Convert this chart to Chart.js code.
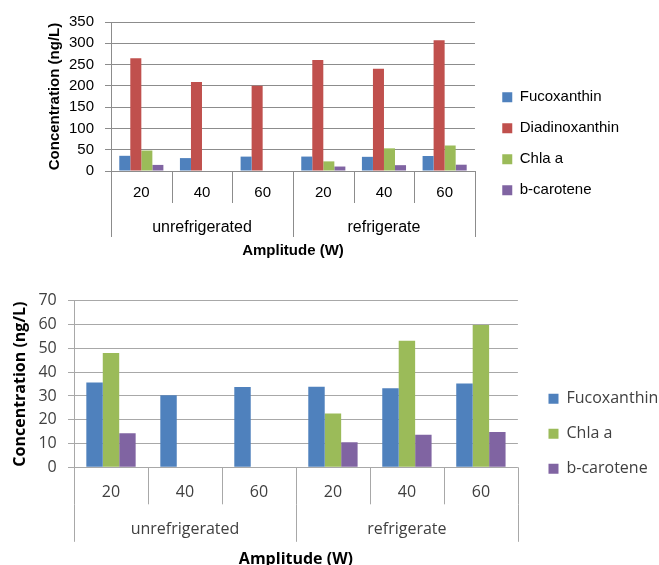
<!DOCTYPE html>
<html>
<head>
<meta charset="utf-8">
<title>Concentration vs Amplitude</title>
<script src="https://cdn.jsdelivr.net/npm/chart.js@4.4.1/dist/chart.umd.min.js"></script>
<style>
  html, body { margin: 0; padding: 0; background: #fff; overflow: hidden; }
  #wrap { position: relative; width: 659px; height: 565px; overflow: hidden; }
  #topChart { position: absolute; left: 0; top: 0; }
  #bottomChart { position: absolute; left: 0; top: 280px; }
</style>
</head>
<body>
<div id="wrap">
  <canvas id="topChart" width="659" height="270"></canvas>
  <canvas id="bottomChart" width="680" height="295"></canvas>
</div>
<script>
// Data
const categories = ['20', '40', '60', '20', '40', '60'];
const groups = ['unrefrigerated', 'refrigerate'];

const fucoxanthin = [35.7, 30.3, 33.8, 33.9, 33.3, 35.3];
const diadinoxanthin = [265, 209, 200, 261, 240, 307];
const chlaA = [48.1, 0, 0, 22.6, 53.2, 59.9];
const bCarotene = [14.3, 0, 0, 10.5, 13.7, 14.8];

const topYMax = 350, topYStep = 50;
const bottomYMax = 70, bottomYStep = 10;

// Excel 2007 palette
const BLUE = '#4F81BD', RED = '#C0504D', GREEN = '#9BBB59', PURPLE = '#8064A2';

function bar(label, data, color) {
  return { label: label, data: data, backgroundColor: color, borderWidth: 0 };
}

// Separator lines of the two label rows under the plot, taken from the category scales
const rowLines = {
  id: 'rowLines',
  afterDraw(chart, args, opts) {
    const ctx = chart.ctx;
    ctx.save();
    ctx.strokeStyle = opts.color;
    ctx.lineWidth = 1;
    ['x', 'x2'].forEach(id => {
      const s = chart.scales[id];
      const n = s.getLabels().length;
      const step = (s.right - s.left) / n;
      for (let i = 0; i <= n; i++) {
        const px = Math.round(s.left + i * step) + 0.5;
        ctx.beginPath();
        ctx.moveTo(px, s.top);
        ctx.lineTo(px, s.top + opts.len[id]);
        ctx.stroke();
      }
    });
    ctx.restore();
  }
};

// Builds one chart with a two-level category axis (amplitude / storage)
function makeChart(id, datasets, cfg) {
  const font = (size, bold) => ({ family: cfg.family, size: size, weight: bold ? 'bold' : 'normal' });
  const ctx = document.getElementById(id).getContext('2d');

  return new Chart(ctx, {
    type: 'bar',
    data: { labels: categories, datasets: datasets },
    plugins: [rowLines],
    options: {
      responsive: false,
      animation: false,
      devicePixelRatio: 1,
      categoryPercentage: datasets.length / (datasets.length + 1.5),
      barPercentage: 1,
      layout: { padding: cfg.pad },
      plugins: {
        tooltip: { enabled: false },
        rowLines: { color: cfg.grid, len: { x: cfg.row1, x2: cfg.row2 } },
        legend: {
          position: 'right',
          maxWidth: 300,
          labels: {
            boxWidth: 10, boxHeight: 10,
            padding: cfg.legendPad,
            color: cfg.text,
            font: font(cfg.legendSize)
          }
        }
      },
      scales: {
        x: {
          grid: { display: false, drawTicks: false },
          border: { display: false },
          ticks: { padding: cfg.row1 + cfg.row1Pad, color: cfg.text, font: font(cfg.tickSize), maxRotation: 0, autoSkip: false },
          afterFit: s => { s.height = cfg.row1; }
        },
        x2: {
          type: 'category',
          position: 'bottom',
          labels: groups,
          offset: true,
          grid: { display: false, drawTicks: false },
          border: { display: false },
          ticks: { padding: cfg.row2 + cfg.row2Pad, color: cfg.text, font: font(cfg.groupSize), maxRotation: 0, autoSkip: false },
          title: {
            display: true, text: 'Amplitude (W)', color: '#000',
            font: font(cfg.titleSize, true), padding: { top: 0, bottom: cfg.titlePad }
          },
          afterFit: s => { s.height = cfg.x2Height; }
        },
        y: {
          min: 0, max: cfg.yMax,
          grid: { tickLength: 6, color: cfg.grid },
          border: { color: cfg.grid },
          ticks: { stepSize: cfg.yStep, padding: cfg.yPad, color: cfg.text, font: font(cfg.tickSize) },
          title: { display: true, text: 'Concentration (ng/L)', color: '#000', font: font(cfg.titleSize, true), padding: 0 },
          afterFit: s => { s.width = cfg.yWidth; }
        },
        // empty box that keeps the gap between the plot and the legend
        gap: {
          type: 'linear',
          position: 'right',
          grid: { display: false },
          border: { display: false },
          ticks: { display: false },
          afterFit: s => { s.width = cfg.gap; }
        }
      }
    }
  });
}

makeChart('topChart', [
  bar('Fucoxanthin', fucoxanthin, BLUE),
  bar('Diadinoxanthin', diadinoxanthin, RED),
  bar('Chla a', chlaA, GREEN),
  bar('b-carotene', bCarotene, PURPLE)
], {
  family: '"Liberation Sans", Arial, sans-serif',
  text: '#000', grid: '#8c8c8c',
  tickSize: 15, groupSize: 16, titleSize: 15, legendSize: 15,
  legendPad: 16,
  pad: { top: 22, left: 46, right: 30, bottom: 4.5 },
  row1: 32, row1Pad: -19, row2: 34, row2Pad: -19.5, x2Height: 62.5, titlePad: 6,
  yMax: topYMax, yStep: topYStep, yPad: 11, yWidth: 65, gap: 11.3
});

makeChart('bottomChart', [
  bar('Fucoxanthin', fucoxanthin, BLUE),
  bar('Chla a', chlaA, GREEN),
  bar('b-carotene', bCarotene, PURPLE)
], {
  family: '"Open Sans", sans-serif',
  text: '#404040', grid: '#a8a8a8',
  tickSize: 16, groupSize: 16, titleSize: 16, legendSize: 16,
  legendPad: 19,
  pad: { top: 19, left: 10.4, right: 11.7, bottom: 6.4 },
  row1: 37, row1Pad: -21.4, row2: 37.5, row2Pad: -22, x2Height: 64.3, titlePad: 0,
  yMax: bottomYMax, yStep: bottomYStep, yPad: 11.3, yWidth: 63.6, gap: 11.6
});
</script>
</body>
</html>
